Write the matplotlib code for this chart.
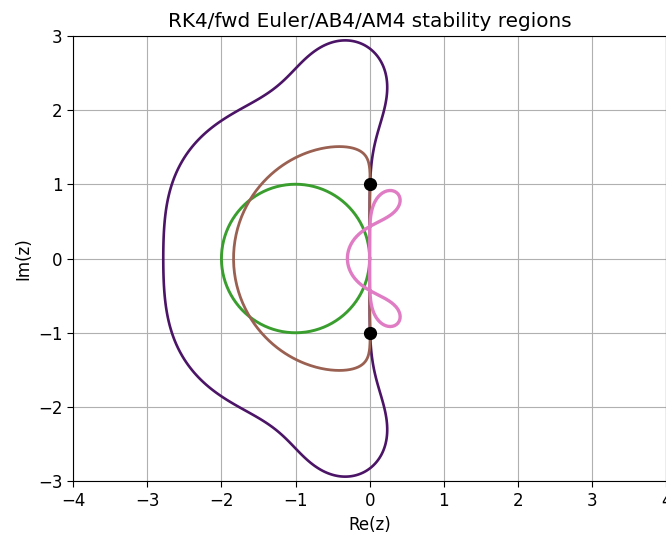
# Stabilitaetsgebiete: RK4, explizites Euler, Adams-Bashforth 4, Adams-Moulton 4

import numpy as np
import matplotlib.pyplot as plt

# Stabilitaetspolynom RK4: R(z) = 1 + z + z^2/2 + z^3/6 + z^4/24 (aufsteigende Potenzen)
rk4_coeffs = [1, 1, 1/2, 1/6, 1/24]

# Explizites Euler: |1 + z| = 1, Kreis um -1 mit Radius 1
euler_center = (-1, 0)
euler_radius = 1

# Adams-Bashforth 4: rho(s) = s^4 - s^3, sigma(s) = (55 s^3 - 59 s^2 + 37 s - 9)/24
ab4_rho = [1, -1, 0, 0, 0]
ab4_sigma = [0, 55/24, -59/24, 37/24, -9/24]

# Adams-Moulton 4: rho(s) = s^4 - s^3, sigma(s) = (251 s^4 + 646 s^3 - 264 s^2 + 106 s - 19)/720
am4_rho = [1, -1, 0, 0, 0]
am4_sigma = [251/720, 646/720, -264/720, 106/720, -19/720]

# Punkte auf der imaginaeren Achse
dots_re = [0, 0]
dots_im = [1, -1]

plt.rcParams['font.size'] = 12
plt.rcParams['xtick.major.size'] = 4.2
plt.rcParams['ytick.major.size'] = 4.2

fig = plt.figure(figsize=(6.66, 5.33), dpi=100)
ax = fig.add_axes([0.11, 0.097, 0.89, 0.836])

# RK4 ueber Konturlinie |R(z)| = 1
x = np.linspace(-4, 4, 801)
y = np.linspace(-3, 3, 601)
X, Y = np.meshgrid(x, y)
Z = X + 1j * Y
R = np.polyval(rk4_coeffs[::-1], Z)
ax.contour(X, Y, np.abs(R), levels=[1], colors='#4b1466', linewidths=1.9)

# Euler
theta = np.linspace(0, 2 * np.pi, 400)
ax.plot(euler_center[0] + euler_radius * np.cos(theta),
        euler_center[1] + euler_radius * np.sin(theta),
        color='#3a9e2f', lw=2.1)

# Mehrschrittverfahren ueber Randortskurve z = rho(s)/sigma(s), s = e^{i theta}
s = np.exp(1j * theta)
z_ab4 = np.polyval(ab4_rho, s) / np.polyval(ab4_sigma, s)
z_am4 = np.polyval(am4_rho, s) / np.polyval(am4_sigma, s)
ax.plot(z_am4.real, z_am4.imag, color='#9a6152', lw=2)
ax.plot(z_ab4.real, z_ab4.imag, color='#e07cc4', lw=2.4)

ax.plot(dots_re, dots_im, 'o', color='black', ms=8.5)

ax.set_xlim(-4, 4)
ax.set_ylim(-3, 3)
ax.set_xticks(range(-4, 5))
ax.set_yticks(range(-3, 4))
ax.set_xlabel('Re(z)')
ax.set_ylabel('Im(z)')
ax.set_title('RK4/fwd Euler/AB4/AM4 stability regions', fontsize=14.4)
ax.grid(True)

fig.savefig('out.png', dpi=100)
